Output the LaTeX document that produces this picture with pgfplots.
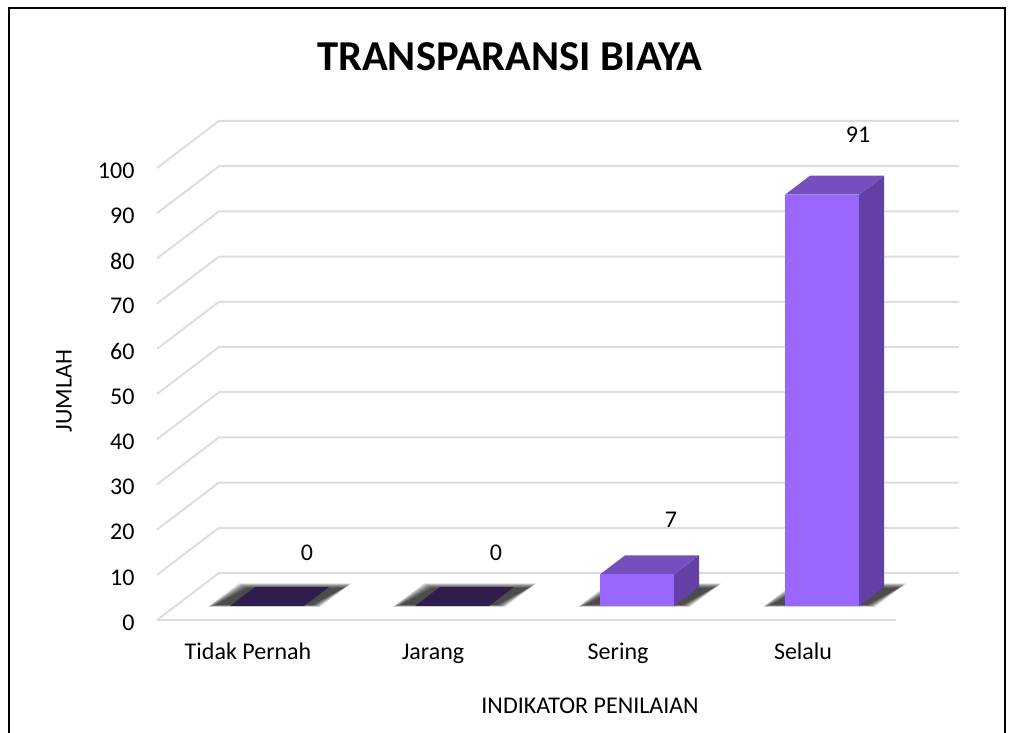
\documentclass[border=0pt]{standalone}
\usepackage{pgfplots}
\pgfplotsset{compat=1.18}
\usepackage{fontspec}
\setmainfont{Carlito}
\definecolor{gridc}{HTML}{DDDDDD}
\definecolor{frontc}{HTML}{9966FF}
\definecolor{topc}{HTML}{7450BF}
\definecolor{sidec}{HTML}{633FA6}
\definecolor{darkc}{HTML}{2E1D4D}
% one gridline: side wall and back wall
\newcommand{\gl}[2]{\addplot[gridc,line width=2pt,forget plot] coordinates {(-0.492,#1) (-0.157,#2) (3.843,#2)};}
% soft floor shadow drawn in layers, relative to a bar at x=0
\newcommand{\shadowat}[1]{%
\addplot[fill=black,fill opacity=0.14,draw=none,xshift=#1,yshift=14pt,forget plot] coordinates {(-0.320,-0.2) (0.285,-0.2) (0.455,5.0) (-0.150,5.0)} -- cycle;
\addplot[fill=black,fill opacity=0.14,draw=none,xshift=#1,yshift=14pt,forget plot] coordinates {(-0.314,-0.1) (0.279,-0.1) (0.449,4.85) (-0.144,4.85)} -- cycle;
\addplot[fill=black,fill opacity=0.14,draw=none,xshift=#1,yshift=14pt,forget plot] coordinates {(-0.308,0) (0.273,0) (0.443,4.7) (-0.138,4.7)} -- cycle;
\addplot[fill=black,fill opacity=0.14,draw=none,xshift=#1,yshift=14pt,forget plot] coordinates {(-0.302,0.05) (0.267,0.05) (0.437,4.55) (-0.132,4.55)} -- cycle;
\addplot[fill=black,fill opacity=0.14,draw=none,xshift=#1,yshift=14pt,forget plot] coordinates {(-0.296,0.1) (0.261,0.1) (0.431,4.4) (-0.126,4.4)} -- cycle;
\addplot[fill=black,fill opacity=0.14,draw=none,xshift=#1,yshift=14pt,forget plot] coordinates {(-0.290,0.15) (0.255,0.15) (0.425,4.25) (-0.120,4.25)} -- cycle;
\addplot[fill=black,fill opacity=0.14,draw=none,xshift=#1,yshift=14pt,forget plot] coordinates {(-0.284,0.2) (0.249,0.2) (0.419,4.1) (-0.114,4.1)} -- cycle;
\addplot[fill=black,fill opacity=0.14,draw=none,xshift=#1,yshift=14pt,forget plot] coordinates {(-0.278,0.25) (0.243,0.25) (0.413,3.95) (-0.108,3.95)} -- cycle;
}
\begin{document}
\begin{tikzpicture}[x=1pt,y=1pt,font=\fontsize{24}{28}\selectfont]
\path[use as bounding box] (0,0) rectangle (1009,733);
\draw[black,line width=2.5pt] (9,0) -- (9,725) -- (1005,725) -- (1005,0);
\begin{axis}[
  at={(157pt,113pt)},anchor=south west,
  scale only axis,width=802pt,height=499pt,
  xmin=-0.492,xmax=3.843,ymin=0,ymax=110.4,
  clip=false,
  axis line style={draw=none},
  major tick length=0pt,
  xtick={0,1,2,3},xticklabels={Tidak Pernah,Jarang,Sering,Selalu},
  ytick={0,10,...,100},
  /pgf/number format/assume math mode=true,
  xticklabel style={yshift=-20pt,text height=16pt,text depth=5pt,font=\fontsize{24}{28}\selectfont},
  yticklabel style={xshift=-19pt,yshift=-2.5pt,font=\fontsize{24}{28}\selectfont},
  title={\bfseries TRANSPARANSI BIAYA},
  title style={at={(axis description cs:0.44,1.117)},anchor=center,font=\fontsize{42.6}{48}\selectfont},
  xlabel={INDIKATOR PENILAIAN},
  xlabel style={at={(axis description cs:0.540,-0.172)},anchor=center,font=\fontsize{24}{28}\selectfont},
  ylabel={JUMLAH},
  ylabel style={at={(axis description cs:-0.116,0.459)},anchor=center,font=\fontsize{24}{28}\selectfont},
]
\gl{0}{10.4}
\gl{10}{20.4}
\gl{20}{30.4}
\gl{30}{40.4}
\gl{40}{50.4}
\gl{50}{60.4}
\gl{60}{70.4}
\gl{70}{80.4}
\gl{80}{90.4}
\gl{90}{100.4}
\gl{100}{110.4}
\addplot[gridc,line width=2pt,forget plot] coordinates {(-0.492,0) (3.503,0)};
\shadowat{19pt}
\shadowat{204pt}
\shadowat{389pt}
\shadowat{574pt}
% zero-height bars: only their top face shows
\addplot[fill=darkc,draw=none,xshift=19pt,yshift=14pt,forget plot] coordinates {(-0.2,0) (0.2,0) (0.335,4.2) (-0.065,4.2)} -- cycle;
\addplot[fill=darkc,draw=none,xshift=19pt,yshift=14pt,forget plot] coordinates {(0.8,0) (1.2,0) (1.335,4.2) (0.935,4.2)} -- cycle;
% Sering, value 7
\addplot[fill=sidec,draw=none,xshift=19pt,yshift=14pt,forget plot] coordinates {(2.2,0) (2.2,7) (2.335,11.2) (2.335,4.2)} -- cycle;
\addplot[fill=topc,draw=none,xshift=19pt,yshift=14pt,forget plot] coordinates {(1.8,7) (2.2,7) (2.335,11.2) (1.935,11.2)} -- cycle;
% Selalu, value 91
\addplot[fill=sidec,draw=none,xshift=19pt,yshift=14pt,forget plot] coordinates {(3.2,0) (3.2,91) (3.335,95.2) (3.335,4.2)} -- cycle;
\addplot[fill=topc,draw=none,xshift=19pt,yshift=14pt,forget plot] coordinates {(2.8,91) (3.2,91) (3.335,95.2) (2.935,95.2)} -- cycle;
% front faces and value labels
\addplot[ybar,bar width=74pt,bar shift=0pt,draw=none,fill=none,xshift=19pt,yshift=14pt,
  nodes near coords,every node near coord/.append style={anchor=center,xshift=40pt,yshift=53pt,text=black,font=\fontsize{24}{28}\selectfont}]
  coordinates {(0,0)};
\addplot[ybar,bar width=74pt,bar shift=0pt,draw=none,fill=none,xshift=19pt,yshift=14pt,
  nodes near coords,every node near coord/.append style={anchor=center,xshift=44pt,yshift=53pt,text=black,font=\fontsize{24}{28}\selectfont}]
  coordinates {(1,0)};
\addplot[ybar,bar width=74pt,bar shift=0pt,draw=none,fill=frontc,xshift=19pt,yshift=14pt,
  nodes near coords,every node near coord/.append style={anchor=center,xshift=34pt,yshift=55pt,text=black,font=\fontsize{24}{28}\selectfont}]
  coordinates {(2,7)};
\addplot[ybar,bar width=74pt,bar shift=0pt,draw=none,fill=frontc,xshift=19pt,yshift=14pt,
  nodes near coords,every node near coord/.append style={anchor=center,xshift=36pt,yshift=60pt,text=black,font=\fontsize{24}{28}\selectfont}]
  coordinates {(3,91)};
\end{axis}
\end{tikzpicture}
\end{document}
